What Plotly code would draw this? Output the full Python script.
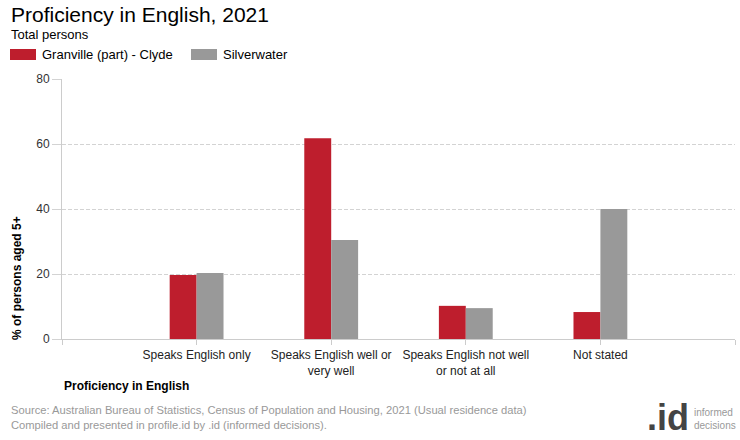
import plotly.graph_objects as go

categories = ["Speaks English only", "Speaks English well or<br>very well",
              "Speaks English not well<br>or not at all", "Not stated"]
series_names = ["Granville (part) - Clyde", "Silverwater"]
granville = [19.7, 61.8, 10.2, 8.3]
silverwater = [20.3, 30.5, 9.5, 40.0]
colors = ["#BE1E2D", "#999999"]
y_ticks = [0, 20, 40, 60, 80]

FONT = "Liberation Sans, Arial, sans-serif"
xpos = list(range(1, len(categories) + 1))

W, H = 740, 440
ML, MR, MT, MB = 62, 5, 79, 101

fig = go.Figure()
for name, vals, col in zip(series_names, [granville, silverwater], colors):
    fig.add_trace(go.Bar(x=xpos, y=vals, name=name, marker_color=col,
                         marker_line_width=0, showlegend=False,
                         hovertemplate="%{y}<extra>" + name + "</extra>"))

fig.update_layout(
    width=W, height=H,
    margin=dict(l=ML, r=MR, t=MT, b=MB, autoexpand=False),
    paper_bgcolor="white", plot_bgcolor="white",
    barmode="group", bargap=0.6, bargroupgap=0,
    font=dict(family=FONT, size=12, color="#000"),
    xaxis=dict(range=[0, len(categories) + 1], tickmode="array",
               tickvals=[0] + xpos + [len(categories) + 1],
               ticktext=[""] + categories + [""],
               showgrid=False, showline=True, linecolor="#cccccc", linewidth=1,
               ticks="outside", ticklen=5, tickcolor="#cccccc",
               tickfont=dict(size=12, color="#222"), zeroline=False, automargin=False),
    yaxis=dict(range=[0, 80], tickvals=y_ticks, showgrid=True,
               gridcolor="#d3d3d3", griddash="4px,2px", gridwidth=1,
               showline=True, linecolor="#cccccc", linewidth=1,
               ticks="outside", ticklen=9, tickcolor="#d3d3d3",
               tickfont=dict(size=12, color="#333"), zeroline=False, automargin=False),
)


def px_x(px):
    return (px - ML) / (W - ML - MR)


def px_y(py):
    return (H - MB - py) / (H - MT - MB)


annotations = []


def add_text(text, x, y, size, color="#000", xanchor="left", yanchor="middle", **kw):
    annotations.append(dict(text=text, x=px_x(x), y=px_y(y), xref="paper", yref="paper",
                            xanchor=xanchor, yanchor=yanchor, showarrow=False,
                            font=dict(size=size, color=color, family=FONT), **kw))


add_text("Proficiency in English, 2021", 9, 14, 21)
add_text("Total persons", 9, 35, 13)

shapes = []
leg_x = [10, 191]
for name, col, lx in zip(series_names, colors, leg_x):
    shapes.append(dict(type="rect", xref="paper", yref="paper",
                       x0=px_x(lx), x1=px_x(lx + 26), y0=px_y(60), y1=px_y(49),
                       fillcolor=col, line=dict(width=0)))
    add_text(name, lx + 30, 54.5, 13)

add_text("<b>% of persons aged 5+</b>", 17, 278, 12, xanchor="center", textangle=-90)
add_text("<b>Proficiency in English</b>", 62, 386, 12)
add_text("Source: Australian Bureau of Statistics, Census of Population and Housing, 2021 (Usual residence data)"
         "<br>Compiled and presented in profile.id by .id (informed decisions).",
         9, 402, 11.2, color="#999999", yanchor="top", align="left")
add_text("<b>.id</b>", 691, 417, 36, color="#444444", xanchor="right")
add_text("informed<br>decisions", 692, 419, 10, color="#999999", align="left")

fig.update_layout(annotations=annotations, shapes=shapes)
fig.write_html("out.html", config={"displayModeBar": False},
               post_script="document.body.style.margin='0';document.body.style.padding='0';")
